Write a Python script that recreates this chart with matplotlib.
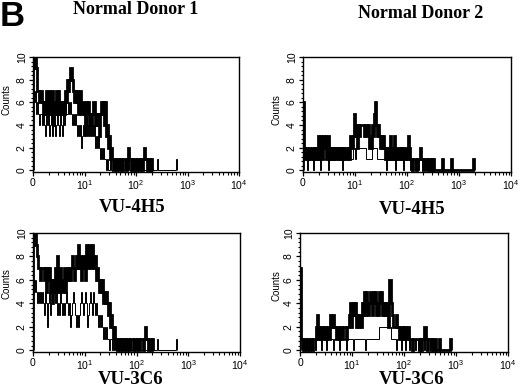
import numpy as np
import matplotlib
matplotlib.use("Agg")
import matplotlib.pyplot as plt
from matplotlib.ticker import FixedLocator, MultipleLocator, NullFormatter

plt.rcParams["mathtext.fontset"] = "custom"
plt.rcParams["mathtext.rm"] = "Liberation Sans"
plt.rcParams["mathtext.it"] = "Liberation Sans"

BINS_PER_DECADE = 52

panel_titles = ["Normal Donor 1", "Normal Donor 2"]
antibodies = ["VU-4H5", "VU-3C6"]
x_tick_values = [1, 10, 100, 1000, 10000]
x_tick_labels = ["0", "$10^1$", "$10^2$", "$10^3$", "$10^4$"]
y_tick_values = [0, 2, 4, 6, 8, 10]

# Counts per log channel (52 channels per decade, starting at 10^0)
donor1_4h5_stain = [10,9,10,9,7, 7,6,7,7,6, 5,6,5,7,5, 6,7,5,6,7, 4,6,5,7,5, 7,6,5,6,5,
                    6,5,7,6,8, 7,8,9,9,8, 7,6,7,6,7, 5,6,7,5,6, 6,5,6,4,6, 5,6,4,5,4,
                    5,6,6,4,5, 4,5,3,5,6, 5,6,4,6,3, 4,2,3,1,2, 1,0,1,1,0, 1,1,0,1,1,
                    0,1,1,1,0, 1,2,1,1,0, 1,0,1,1,0, 1,1,0,1,1, 0,1,2,1,1, 0,1,1,0,1, 0]
donor1_4h5_ctrl = [7,6,7,5,6, 5,4,5,5,4, 5,4,3,5,4, 5,3,4,5,3, 4,5,3,4,5, 4,3,5,4,3,
                   5,4,6,5,5, 6,5,6,5,4, 5,4,5,4,3, 4,3,4,2,3, 4,3,4,3,5, 3,4,3,4,3,
                   4,3,4,2,3, 2,3,2,1,2, 1,2,1,1,0, 1,0,0,1,0, 0,1,0,0,1, 0,1,0,0,0,
                   1,0,0,1,0, 0,1,0,0,0, 1,0,0,0,1, 0,0,0,0,0, 0,0,0,0,0, 0,0,0,0,0,
                   0,0,0,0,0, 1,0,0,0,0, 0,0,0,0,0, 0,0,0,0,0, 0,0,0,0,1]
donor2_4h5_stain = [6,2,1,2,1, 1,2,1,1,2, 1,2,1,2,1, 3,1,3,2,1, 3,2,3,1,2, 3,1,2,1,2,
                    1,2,1,2,2, 1,2,1,2,1, 2,1,2,2,1, 2,1,3,2,2, 3,5,4,3,2, 4,3,4,4,4,
                    4,3,4,4,3, 4,2,3,2,4, 3,5,6,4,3, 4,3,2,3,2, 3,2,1,2,1, 2,1,3,1,2,
                    1,3,1,2,1, 1,2,1,2,1, 2,1,1,2,1, 3,2,1,1,0, 1,1,1,0,1, 1,1,2,1,1,
                    0,1,1,1,0, 1,1,0,1,0, 1,0,0,0,0, 0,0,0,0,1, 0,0,0,0,0, 0,0,0,1,0,
                    0,0,0,0,0, 0,0,0,0,0, 0,0,0,0,0, 0,0,0,0,0, 1]
donor2_4h5_ctrl = [1,1,1,1,0, 1,1,1,1,1, 0,1,1,1,1, 1,1,0,1,1, 1,1,1,1,1, 0,1,1,1,1,
                   1,1,1,1,1, 1,1,1,1,0, 1,1,1,1,1, 1,1,1,1,1, 2,2,1,2,2, 2,2,2,2,2,
                   2,2,2,1,1, 1,1,1,1,2, 2,2,2,2,1, 1,1,1,1,1, 1,1,1,0,1, 1,1,1,1,1,
                   1,1,0,1,1, 1,1,1,1,1, 0,1,1,1,1, 1,1,0,1,1, 1,1,0,1,1, 0,1,1,1,0,
                   1,1,0,1,1, 0,1,0,0,1]
donor1_3c6_stain = [10,9,10,9,8, 7,7,6,7,7, 7,6,7,5,7, 6,7,5,6,4, 6,5,7,5,8, 6,5,7,6,5,
                    6,7,5,6,7, 6,7,6,7,8, 7,6,7,8,7, 9,7,8,6,7, 8,7,6,9,8, 7,9,8,7,9,
                    8,7,8,6,7, 6,5,6,5,6, 4,5,4,5,4, 3,4,2,3,2, 1,2,1,1,0, 1,1,0,1,1,
                    0,1,1,0,1, 1,0,1,1,1, 0,1,1,0,1, 1,1,0,1,1, 1,0,1,2,1, 1,0,1,1,0, 1]
donor1_3c6_ctrl = [6,5,6,5,4, 5,4,5,4,5, 4,3,5,4,2, 4,5,3,4,5, 6,5,4,5,3, 4,3,5,4,3,
                   4,3,4,5,4, 3,4,2,3,4, 5,4,3,2,3, 2,3,4,5,4, 3,4,5,4,2, 3,4,5,4,3,
                   5,4,3,4,3, 2,3,2,3,2, 1,2,1,2,1, 1,0,1,1,0, 1,0,1,0,0, 1,0,0,1,0,
                   0,1,0,0,1, 0,0,1,0,0, 0,0,0,0,0, 0,0,0,0,0, 0,0,0,0,0, 0,0,0,0,0,
                   0,0,0,0,0, 1,0,0,0,0, 0,0,0,0,0, 0,0,0,0,0, 0,0,0,0,1]
donor2_3c6_stain = [7,1,1,0,1, 1,0,1,1,0, 1,1,0,1,1, 1,2,3,1,2, 1,2,2,1,2, 2,1,2,2,1,
                    3,2,2,3,2, 2,1,2,2,1, 2,2,1,2,2, 2,1,2,2,3, 4,2,3,4,3, 4,2,3,2,3,
                    3,2,4,3,5, 3,5,4,3,4, 5,4,3,5,4, 5,3,4,3,5, 4,5,3,4,3, 4,3,4,2,6,
                    6,4,3,2,2, 2,3,2,2,1, 2,2,1,2,1, 2,1,1,2,1, 1,1,0,1,1, 1,1,1,1,0,
                    1,0,1,1,2, 2,1,0,1,1, 1,0,1,0,0, 1,0,0,0,1, 0,0,0,0,0, 0,0,0,0,0, 1]
donor2_3c6_ctrl = [1,1,0,1,1, 1,0,1,1,1, 0,1,1,1,1, 0,1,1,1,1, 1,0,1,1,1, 1,0,1,1,1,
                   1,1,1,0,1, 1,1,1,1,0, 1,1,1,1,1, 1,0,1,1,1, 1,1,1,0,1, 1,1,1,1,1,
                   1,1,1,1,1, 0,1,1,1,1, 1,1,1,1,1, 1,1,1,1,2, 2,2,2,2,2, 2,2,2,2,2,
                   2,1,1,1,1, 1,0,1,1,1, 1,0,1,1,1, 0,1,1,1,0, 1,1,0,1,1, 0,1,1,0,1,
                   1,0,1,1,0, 1,1,0,1,1, 0,1,1,0,1]

panels = [
    # (stain, control, axes rect: left, top, width, height in pixels)
    (donor1_4h5_stain, donor1_4h5_ctrl, (33, 57, 206, 115)),
    (donor2_4h5_stain, donor2_4h5_ctrl, (303, 57, 208, 115)),
    (donor1_3c6_stain, donor1_3c6_ctrl, (33, 233, 207, 119)),
    (donor2_3c6_stain, donor2_3c6_ctrl, (300, 233, 208, 119)),
]

W, H = 520, 388
fig = plt.figure(figsize=(W / 100, H / 100), dpi=100)

def edges_for(vals):
    n = len(vals)
    return 10 ** (np.arange(n + 1) / BINS_PER_DECADE)

for stain, ctrl, (lx, ty, w, h) in panels:
    ax = fig.add_axes([lx / W, 1 - (ty + h) / H, w / W, h / H])
    ax.stairs(ctrl, edges_for(ctrl), color="black", lw=0.7, baseline=0)
    ax.stairs(stain, edges_for(stain), color="black", lw=2.0, baseline=0)
    ax.set_xscale("log")
    ax.set_xlim(1, 10000)
    ax.set_ylim(-0.15, 10)
    ax.xaxis.set_major_locator(FixedLocator(x_tick_values))
    ax.set_xticklabels(x_tick_labels)
    minor = [m * 10 ** d for d in range(4) for m in range(2, 10)]
    ax.xaxis.set_minor_locator(FixedLocator(minor))
    ax.xaxis.set_minor_formatter(NullFormatter())
    ax.yaxis.set_major_locator(FixedLocator(y_tick_values))
    ax.yaxis.set_minor_locator(MultipleLocator(0.4))
    ax.set_yticklabels([str(v) for v in y_tick_values], rotation=90, va="center")
    ax.tick_params(axis="both", which="major", direction="out", length=3, width=0.9,
                   labelsize=7.5, pad=1.5)
    ax.tick_params(axis="both", which="minor", direction="out", length=1.8, width=0.8)
    for s in ax.spines.values():
        s.set_linewidth(1.0)
    for lab in ax.get_xticklabels() + ax.get_yticklabels():
        lab.set_fontfamily("Liberation Sans")

def ft(x, y, s, **kw):
    fig.text(x / W, 1 - y / H, s, **kw)

ft(0, 0, "B", ha="left", va="top", fontsize=25, fontweight="bold", family="Liberation Sans")
ft(136, 10, panel_titles[0], ha="center", va="center", fontsize=13, fontweight="bold", family="Liberation Serif")
ft(421, 13, panel_titles[1], ha="center", va="center", fontsize=13, fontweight="bold", family="Liberation Serif")
ft(132, 207, antibodies[0], ha="center", va="center", fontsize=13.5, fontweight="bold", family="Liberation Serif")
ft(412, 209, antibodies[0], ha="center", va="center", fontsize=13.5, fontweight="bold", family="Liberation Serif")
ft(131, 379, antibodies[1], ha="center", va="center", fontsize=13.5, fontweight="bold", family="Liberation Serif")
ft(412, 379, antibodies[1], ha="center", va="center", fontsize=13.5, fontweight="bold", family="Liberation Serif")
for (cx, cy) in [(6, 100), (277, 110), (6, 284), (276, 286)]:
    ft(cx, cy, "Counts", ha="center", va="center", rotation=90, fontsize=7, family="Liberation Sans")

fig.savefig("out.png", dpi=100)
